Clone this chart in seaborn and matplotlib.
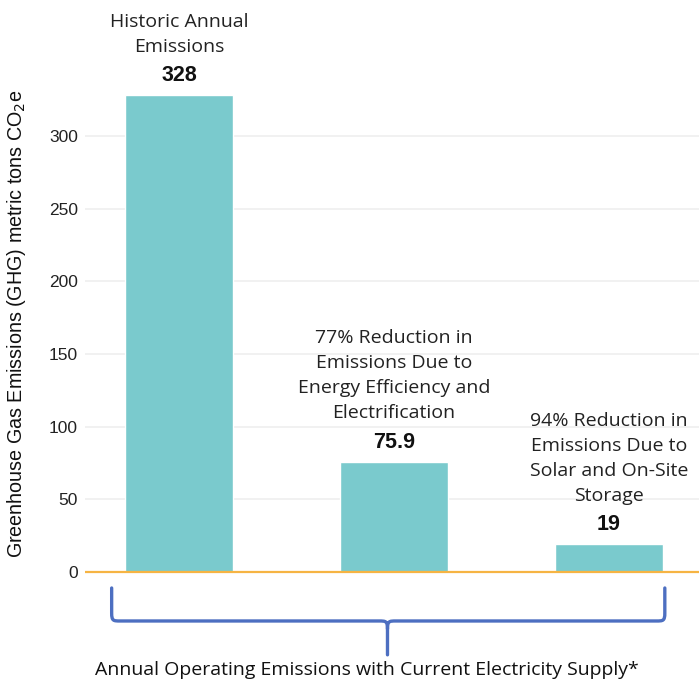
import matplotlib
matplotlib.use("Agg")
import matplotlib.pyplot as plt
from matplotlib.path import Path
from matplotlib.patches import PathPatch
import seaborn as sns
import pandas as pd

# Emissions scenarios (metric tons CO2e)
scenarios = ["Historic", "Efficiency", "Solar"]
emissions = [328, 75.9, 19]
value_labels = ["328", "75.9", "19"]
descriptions = [
    "Historic Annual\nEmissions",
    "77% Reduction in\nEmissions Due to\nEnergy Efficiency and\nElectrification",
    "94% Reduction in\nEmissions Due to\nSolar and On-Site\nStorage",
]
y_ticks = [0, 50, 100, 150, 200, 250, 300]
footer = "Annual Operating Emissions with Current Electricity Supply*"

df = pd.DataFrame({"scenario": scenarios, "emissions": emissions})

sns.set_theme(style="white")
plt.rcParams["font.family"] = ["Liberation Sans", "DejaVu Sans"]
desc_font = ["Open Sans", "DejaVu Sans"]

fig = plt.figure(figsize=(6.99, 6.81), dpi=100)
ax = fig.add_axes([85 / 699, 0.0, 1 - 85 / 699, 1.0])

bar_color = "#7acacd"
sns.barplot(data=df, x="scenario", y="emissions", order=scenarios,
            color=bar_color, width=0.5, saturation=1, ax=ax, zorder=2)

ax.set_xlim(-0.437, 2.419)
ax.set_ylim(-75, 393.6)

# light gridlines, orange baseline
for t in y_ticks[1:]:
    ax.axhline(t, color="#efefef", lw=1.2, zorder=0)
ax.axhline(0, color="#f6b443", lw=1.6, zorder=3)

ax.set_yticks(y_ticks)
ax.set_yticklabels([str(t) for t in y_ticks], fontsize=12.5, color="#222222")
ax.tick_params(axis="y", length=0, pad=5)
ax.set_xticks([])
ax.set_xlabel("")
ax.set_ylabel("Greenhouse Gas Emissions (GHG) metric tons CO$_2$e",
              fontsize=14.2, color="#111111")
ax.yaxis.set_label_coords(-0.093, 0.524)
for s in ax.spines.values():
    s.set_visible(False)

# value labels and scenario descriptions
for i, (v, lab, desc) in enumerate(zip(emissions, value_labels, descriptions)):
    ax.text(i, v + 13.5, lab, ha="center", va="center", fontsize=15.5,
            fontweight="bold", color="#111111")
    ax.text(i, v + 27, desc, ha="center", va="bottom", fontsize=14,
            color="#222222", linespacing=1.5, family=desc_font)

# curly brace grouping all three scenarios
xl, xm, xr = -0.313, 0.97, 2.26
y_top, y_h, y_tip = -11, -33.7, -57
rx, ry = 0.04, 5.5
verts = [
    (xl, y_top), (xl, y_h + ry),
    (xl, y_h), (xl + rx * 0.2, y_h), (xl + rx, y_h),
    (xm - rx, y_h),
    (xm - rx * 0.2, y_h), (xm, y_h), (xm, y_h - ry),
    (xm, y_tip),
    (xm, y_h - ry),
    (xm, y_h), (xm + rx * 0.2, y_h), (xm + rx, y_h),
    (xr - rx, y_h),
    (xr - rx * 0.2, y_h), (xr, y_h), (xr, y_h + ry),
    (xr, y_top),
]
codes = [Path.MOVETO, Path.LINETO,
         Path.CURVE4, Path.CURVE4, Path.CURVE4,
         Path.LINETO,
         Path.CURVE4, Path.CURVE4, Path.CURVE4,
         Path.LINETO,
         Path.MOVETO,
         Path.CURVE4, Path.CURVE4, Path.CURVE4,
         Path.LINETO,
         Path.CURVE4, Path.CURVE4, Path.CURVE4,
         Path.LINETO]
brace = PathPatch(Path(verts, codes), facecolor="none", edgecolor="#4d6fc1",
                  lw=2.4, capstyle="round", joinstyle="round", clip_on=False)
ax.add_patch(brace)

fig.text(367 / 699, 1 - 670 / 681, footer, ha="center", va="center",
         fontsize=14, color="#111111", family=desc_font)

fig.savefig("out.png", dpi=100)
